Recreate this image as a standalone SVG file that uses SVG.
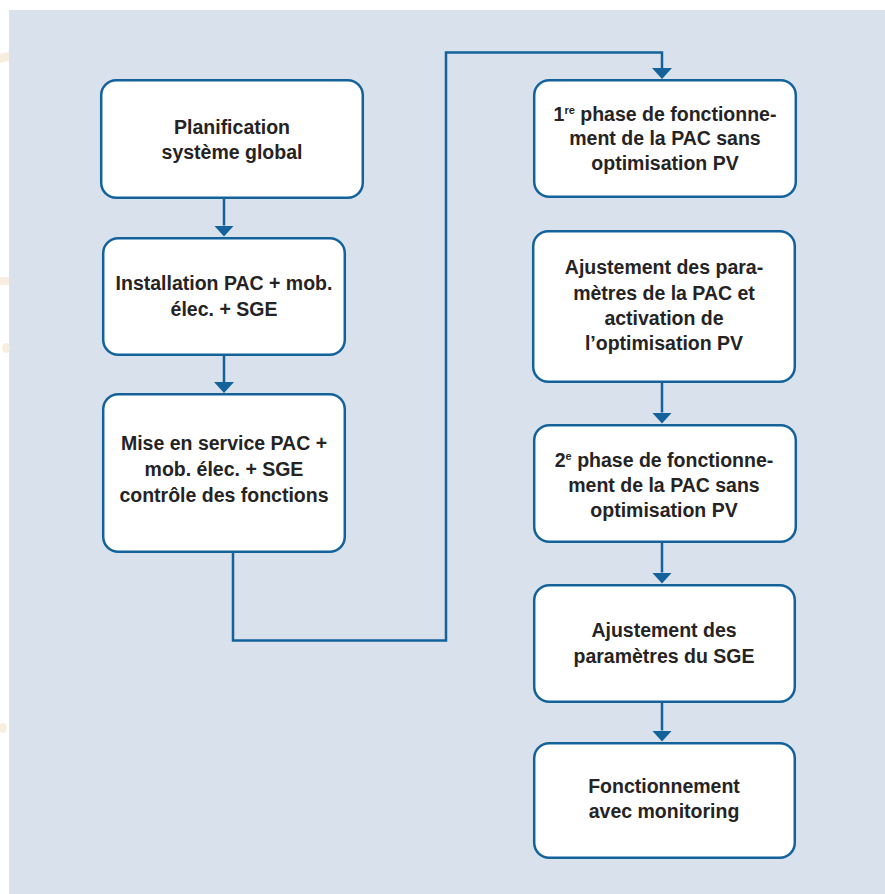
<svg xmlns="http://www.w3.org/2000/svg" width="885" height="894" viewBox="0 0 885 894">
  <style>
    .box { fill: #ffffff; stroke: #13639a; stroke-width: 2.5; }
    .lbl { font-family: "Liberation Sans", Arial, sans-serif; font-weight: bold; font-size: 19.5px; fill: #252324; text-anchor: middle; }
    .sup { font-size: 11px; }
    .conn { fill: none; stroke: #13639a; stroke-width: 2.5; }
    .mark { fill: #f7eedf; }
  </style>
  <defs>
    <marker id="arrow" markerUnits="userSpaceOnUse" markerWidth="11" markerHeight="20" viewBox="0 0 11 20" refX="0" refY="10" orient="auto">
      <path d="M0,0 L11,10 L0,20 Z" fill="#13639a"/>
    </marker>
  </defs>

  <rect x="0" y="0" width="885" height="894" fill="#ffffff"/>
  <rect x="9" y="10" width="876" height="884" fill="#d9e1ed"/>
  <g id="edge-marks">
    <path class="mark" d="M0,54 L9,52 L9,61 L0,63 Z"/>
    <rect class="mark" x="0" y="277" width="9" height="8"/>
    <ellipse class="mark" cx="6" cy="348" rx="4" ry="5"/>
    <ellipse class="mark" cx="3" cy="728" rx="4" ry="5"/>
  </g>

  <g id="connectors">
    <path class="conn" d="M224 199 V225.5" marker-end="url(#arrow)"/>
    <path class="conn" d="M224 356 V382" marker-end="url(#arrow)"/>
    <path class="conn" d="M233 553 V640.5 H446 V52.5 H662 V68" marker-end="url(#arrow)"/>
    <path class="conn" d="M662 383 V412.5" marker-end="url(#arrow)"/>
    <path class="conn" d="M662 543 V572.5" marker-end="url(#arrow)"/>
    <path class="conn" d="M662 703 V730.5" marker-end="url(#arrow)"/>
  </g>

  <g id="node-planification">
    <rect class="box" x="101.2" y="80.2" width="261.6" height="117.6" rx="15"/>
    <text class="lbl" x="232" y="134">Planification</text>
    <text class="lbl" x="232" y="159">système global</text>
  </g>

  <g id="node-installation">
    <rect class="box" x="103.2" y="238.2" width="241.6" height="116.6" rx="15"/>
    <text class="lbl" x="224" y="290">Installation PAC + mob.</text>
    <text class="lbl" x="224" y="316">élec. + SGE</text>
  </g>

  <g id="node-mise-en-service">
    <rect class="box" x="103.2" y="394.2" width="241.6" height="157.6" rx="15"/>
    <text class="lbl" x="224" y="450">Mise en service PAC +</text>
    <text class="lbl" x="224" y="476">mob. élec. + SGE</text>
    <text class="lbl" x="224" y="502">contrôle des fonctions</text>
  </g>

  <g id="node-phase1">
    <rect class="box" x="534.2" y="80.2" width="261.6" height="116.6" rx="15"/>
    <text class="lbl" x="665" y="121">1<tspan class="sup" dy="-7">re</tspan><tspan dy="7"> phase de fonctionne-</tspan></text>
    <text class="lbl" x="665" y="145">ment de la PAC sans</text>
    <text class="lbl" x="665" y="169.5">optimisation PV</text>
  </g>

  <g id="node-ajustement-pac">
    <rect class="box" x="533.2" y="231.2" width="261.6" height="150.6" rx="15"/>
    <text class="lbl" x="664" y="274">Ajustement des para-</text>
    <text class="lbl" x="664" y="300">mètres de la PAC et</text>
    <text class="lbl" x="664" y="324.5">activation de</text>
    <text class="lbl" x="664" y="350">l’optimisation PV</text>
  </g>

  <g id="node-phase2">
    <rect class="box" x="534.2" y="425.2" width="261.6" height="116.6" rx="15"/>
    <text class="lbl" x="664" y="467">2<tspan class="sup" dy="-7">e</tspan><tspan dy="7"> phase de fonctionne-</tspan></text>
    <text class="lbl" x="664" y="492">ment de la PAC sans</text>
    <text class="lbl" x="664" y="517">optimisation PV</text>
  </g>

  <g id="node-ajustement-sge">
    <rect class="box" x="534.2" y="585.2" width="260.6" height="116.6" rx="15"/>
    <text class="lbl" x="664" y="637">Ajustement des</text>
    <text class="lbl" x="664" y="662.5">paramètres du SGE</text>
  </g>

  <g id="node-fonctionnement">
    <rect class="box" x="534.2" y="743.2" width="260.6" height="114.6" rx="15"/>
    <text class="lbl" x="664" y="793">Fonctionnement</text>
    <text class="lbl" x="664" y="818">avec monitoring</text>
  </g>
</svg>
